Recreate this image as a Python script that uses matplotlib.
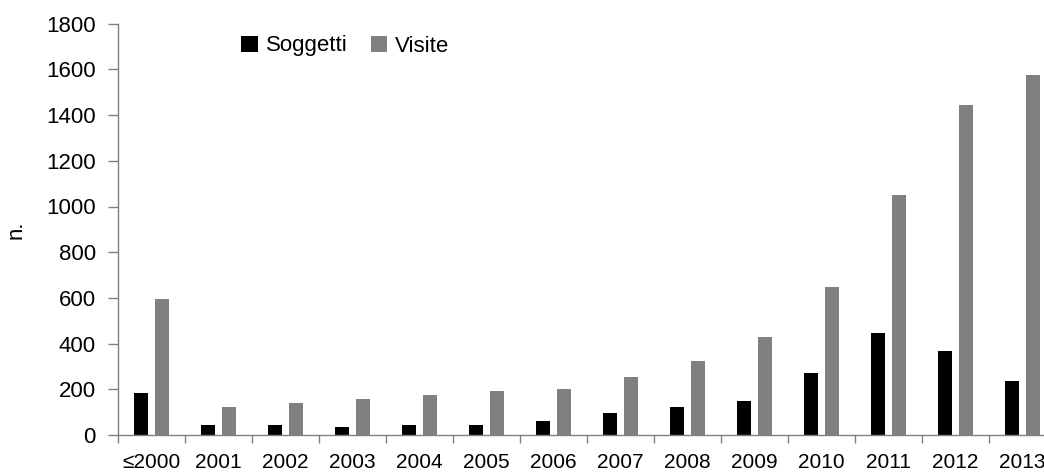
import numpy as np
import matplotlib
matplotlib.use("Agg")
import matplotlib.pyplot as plt

# ---------------------------
# Data
# ---------------------------
years = ["≤2000", "2001", "2002", "2003", "2004", "2005", "2006",
         "2007", "2008", "2009", "2010", "2011", "2012", "2013"]
soggetti = [184, 44, 44, 35, 44, 44, 61, 96, 123, 149, 271, 446, 368, 236]
visite = [595, 122, 140, 158, 175, 193, 201, 254, 324, 429, 648, 1050, 1444, 1575]

plt.rcParams["font.family"] = ["Liberation Sans", "DejaVu Sans"]
plt.rcParams["font.size"] = 16

# ---------------------------
# Figure
# ---------------------------
fig = plt.figure(figsize=(10.44, 4.74), dpi=100)
ax = fig.add_axes([118 / 1044, 39 / 474, 938 / 1044, 411.3 / 474])

x = np.arange(len(years))
w = 0.21
ax.bar(x - 0.15, soggetti, w, color="black", label="Soggetti")
ax.bar(x + 0.15, visite, w, color="#808080", label="Visite")

ax.set_xlim(-0.5, len(years) - 0.5)
ax.set_ylim(0, 1800)
ax.set_yticks(np.arange(0, 1801, 200))
ax.set_ylabel("n.", labelpad=14)

ax.set_xticks(x)
ax.set_xticklabels(years, fontsize=15)
ax.set_xticks(np.arange(-0.5, len(years), 1), minor=True)
ax.tick_params(axis="x", which="major", length=0, pad=13)
ax.tick_params(axis="x", which="minor", length=6, width=1, color="#808080")
ax.tick_params(axis="y", length=7, width=1, color="#808080", pad=9)

for s in ["top", "right"]:
    ax.spines[s].set_visible(False)
for s in ["left", "bottom"]:
    ax.spines[s].set_color("#808080")
    ax.spines[s].set_linewidth(1)

ax.legend(loc="center left", bbox_to_anchor=(230 / 1044, 1 - 46 / 474),
          bbox_transform=fig.transFigure, ncol=2, frameon=False,
          borderpad=0, handlelength=0.75, handleheight=0.75,
          handletextpad=0.35, columnspacing=1.05)

plt.savefig("out.png", dpi=100)
plt.close()
